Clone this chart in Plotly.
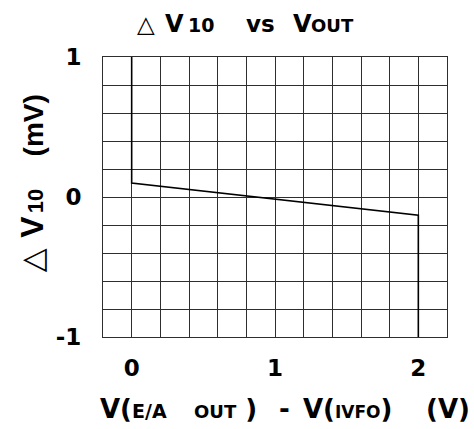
import plotly.graph_objects as go

# data
vdiff = [0, 0, 2, 2]            # V(E/A OUT) - V(IVFO)  (V)
dv10 = [1.0, 0.10, -0.13, -1.0]  # delta V10 (mV)

x_ticks = [0, 1, 2]
x_ticklabels = ["0", "1", "2"]
y_ticks = [-1, 0, 1]
y_ticklabels = ["-1", "0", "1"]

DJ = "DejaVu Sans"
LB = "Liberation Sans"
NB = "\u00a0"
grid_col = "#2e2e2e"

fig = go.Figure()
fig.add_trace(go.Scatter(x=vdiff, y=dv10, mode="lines",
                         line=dict(color="black", width=1.6),
                         showlegend=False, hoverinfo="skip"))

axis_common = dict(showline=True, mirror=True, linecolor=grid_col, linewidth=1,
                   showgrid=True, gridcolor=grid_col, gridwidth=1,
                   zeroline=False, ticks="", automargin=False,
                   tickfont=dict(family=DJ, size=23, color="black"),
                   minor=dict(dtick=0.2, showgrid=True, gridcolor=grid_col, gridwidth=1, ticks=""))

fig.update_xaxes(range=[-0.2, 2.2], tickmode="array", tickvals=x_ticks,
                 ticktext=[f"<b>{t}</b>" for t in x_ticklabels],
                 ticklabelstandoff=10, **axis_common)
fig.update_yaxes(range=[-1, 1], tickmode="array", tickvals=y_ticks,
                 ticktext=[f"<b>{t}</b>" for t in y_ticklabels],
                 ticklabelstandoff=16, **axis_common)

L, R, T, B = 103, 27, 57, 92
W, H = 474, 429
pw, ph = W - L - R, H - T - B
DESC = {DJ: 0.236, LB: 0.212}


def sz(t, s):
    return f"<span style='font-size:{s}px'>{t}</span>"


def put(text, x, y, size, font=DJ, bold=True, xanchor="left", yanchor="bottom", angle=0):
    t = f"<b>{text}</b>" if bold else text
    fig.add_annotation(text=t, x=(x - L) / pw, y=((H - y) - B) / ph, xref="paper", yref="paper",
                       showarrow=False, textangle=angle, xanchor=xanchor, yanchor=yanchor,
                       borderpad=0, borderwidth=0,
                       font=dict(family=font, size=size, color="black"))


# title (baseline at y=32)
bl = 32
put("△", 137, bl + DESC[DJ] * 23, 23, bold=False)
put("V", 165, bl + DESC[DJ] * 24, 24)
put("10", 188, bl + DESC[DJ] * 19, 19)
put("vs", 246, bl + DESC[DJ] * 23, 23)
put("V", 293, bl + DESC[DJ] * 24, 24)
put("OUT", 311, bl + DESC[DJ] * 18, 18)

# x-axis title (baseline at y=418)
bl = 418
yb = bl + DESC[DJ] * 26
put("V(" + sz("E/A", 19), 100, yb, 26)
put(sz("OUT", 18) + NB + ")", 194, yb, 26)
put("-", 279, yb, 26)
put("V(" + sz("IVFO", 17) + ")", 303, yb, 26)
put("(V)", 470, yb, 26, xanchor="right")

# y-axis title (rotated, baseline at x=43)
bx = 43
put("△", bx + DESC[DJ] * 31, 272, 31, bold=False, xanchor="right", angle=-90)
put("V", bx + DESC[LB] * 32, 238, 32, font=LB, xanchor="right", angle=-90)
put("10", bx + DESC[LB] * 22, 213, 22, font=LB, xanchor="right", angle=-90)
put("(mV)", bx + DESC[LB] * 28, 156, 28, font=LB, xanchor="right", angle=-90)

fig.update_layout(width=W, height=H, margin=dict(l=L, r=R, t=T, b=B),
                  plot_bgcolor="white", paper_bgcolor="white")

fig.write_html("out.html", config={"displayModeBar": False},
               post_script="document.body.style.margin='0';document.body.style.overflow='hidden';")
